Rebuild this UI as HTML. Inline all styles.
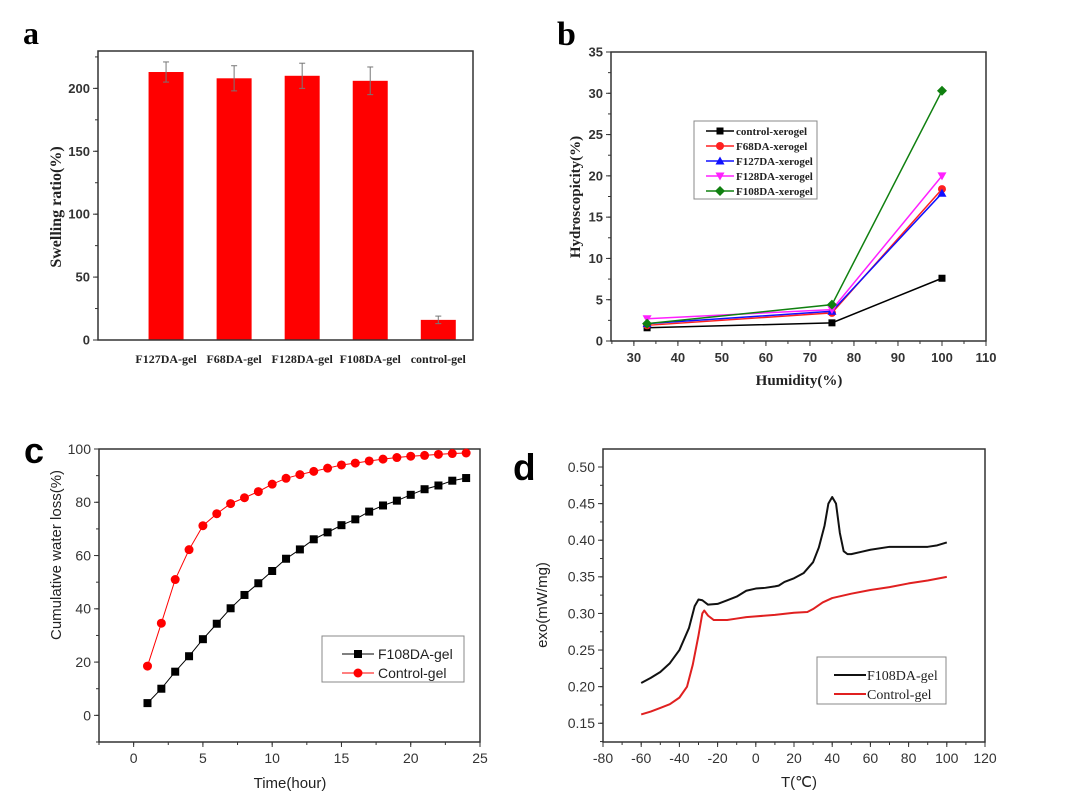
<!DOCTYPE html>
<html><head><meta charset="utf-8"><style>
html,body{margin:0;padding:0;background:#fff;}
svg{display:block;}
</style></head><body>
<svg id="fig" width="1080" height="810" viewBox="0 0 1080 810" xmlns="http://www.w3.org/2000/svg">
<rect width="1080" height="810" fill="#fff"/>
<text x="23" y="44" font-family="Liberation Serif,serif" font-weight="bold" font-size="32">a</text>
<text x="557" y="45" font-family="Liberation Serif,serif" font-weight="bold" font-size="34">b</text>
<text x="24" y="463" font-family="Liberation Sans,sans-serif" font-weight="bold" font-size="36">c</text>
<text x="513" y="480" font-family="Liberation Sans,sans-serif" font-weight="bold" font-size="37">d</text>
</svg>
<script>
// ---- Panel a data ----
const aCategories=["F127DA-gel","F68DA-gel","F128DA-gel","F108DA-gel","control-gel"];
const aValues=[213,208,210,206,16];
const aErrors=[8,10,10,11,3];
const aTicks=[0,50,100,150,200];
// ---- Panel b data ----
const bX=[33,75,100];
const bNames=["control-xerogel","F68DA-xerogel","F127DA-xerogel","F128DA-xerogel","F108DA-xerogel"];
const bControl=[1.6,2.2,7.6];
const bF68=[1.9,3.4,18.4];
const bF127=[2.1,3.6,17.9];
const bF128=[2.7,3.8,20.0];
const bF108=[2.1,4.4,30.3];
const bXTicks=[30,40,50,60,70,80,90,100,110];
const bYTicks=[0,5,10,15,20,25,30,35];
// ---- Panel c data ----
const cHours=[1,2,3,4,5,6,7,8,9,10,11,12,13,14,15,16,17,18,19,20,21,22,23,24];
const cF108=[4.6,10,16.4,22.2,28.6,34.4,40.2,45.2,49.6,54.2,58.8,62.3,66.1,68.7,71.4,73.6,76.5,78.8,80.6,82.8,84.9,86.3,88.1,89.1];
const cControl=[18.5,34.6,51,62.2,71.2,75.7,79.5,81.7,84,86.8,89,90.4,91.6,92.8,94,94.7,95.5,96.2,96.8,97.3,97.6,98,98.3,98.5];
const cXTicks=[0,5,10,15,20,25];
const cYTicks=[0,20,40,60,80,100];
// ---- Panel d data ----
const dBlackT=[-60,-55,-50,-45,-40,-35,-32,-30,-28,-25,-20,-15,-10,-5,0,5,10,12,15,20,25,30,33,36,38,40,42,44,46,48,50,55,60,70,80,90,95,100];
const dBlackV=[.205,.212,.22,.232,.25,.28,.31,.319,.318,.312,.313,.318,.323,.331,.334,.335,.337,.338,.343,.348,.355,.37,.39,.42,.45,.459,.45,.41,.385,.381,.381,.384,.387,.391,.391,.391,.393,.397];
const dRedT=[-60,-55,-50,-45,-40,-36,-33,-30,-28,-27,-25,-22,-15,-10,-5,0,10,20,27,30,35,40,50,60,70,80,90,100];
const dRedV=[.162,.166,.171,.176,.185,.2,.23,.27,.3,.304,.297,.291,.291,.293,.295,.296,.298,.301,.302,.306,.315,.321,.327,.332,.336,.341,.345,.35];
const dXTicks=[-80,-60,-40,-20,0,20,40,60,80,100,120];
const dYTicks=[0.15,0.20,0.25,0.30,0.35,0.40,0.45,0.50];

const NS="http://www.w3.org/2000/svg";
const svg=document.getElementById('fig');
function mk(tag,attrs,parent,txt){const e=document.createElementNS(NS,tag);for(const k in attrs)e.setAttribute(k,attrs[k]);if(txt!==undefined)e.textContent=txt;(parent||svg).appendChild(e);return e;}
function scale(d0,d1,r0,r1){return v=>r0+(v-d0)*(r1-r0)/(d1-d0);}
const SANS="Liberation Sans,sans-serif", SERIF="Liberation Serif,serif";

function frame(L,T,R,B,name){const r=mk('rect',{x:L,y:T,width:R-L,height:B-T,fill:'none',stroke:'#333','stroke-width':1.5});

}
function yAxis(ticks,y,L,fmt,font,fs,minorStep,dmin,dmax,name,bold){
 const g=mk('g',{});
 
 
 ticks.forEach(t=>{mk('line',{x1:L-5,x2:L,y1:y(t),y2:y(t),stroke:'#333','stroke-width':1},g);
  mk('text',{x:L-8,y:y(t)+fs*0.35,'text-anchor':'end','font-family':font,'font-size':fs,'font-weight':bold?'bold':'normal',fill:'#333'},g,fmt(t));});
 if(minorStep){for(let v=Math.ceil(dmin/minorStep)*minorStep;v<=dmax+1e-9;v+=minorStep){mk('line',{x1:L-3,x2:L,y1:y(v),y2:y(v),stroke:'#333','stroke-width':1},g);}}
}
function xAxis(ticks,x,B,fmt,font,fs,minorStep,dmin,dmax,name,bold){
 const g=mk('g',{});
 
 
 ticks.forEach(t=>{mk('line',{x1:x(t),x2:x(t),y1:B,y2:B+5,stroke:'#333','stroke-width':1},g);
  mk('text',{x:x(t),y:B+21,'text-anchor':'middle','font-family':font,'font-size':fs,'font-weight':bold?'bold':'normal',fill:'#333'},g,fmt(t));});
 if(minorStep){for(let v=Math.ceil(dmin/minorStep)*minorStep;v<=dmax+1e-9;v+=minorStep){mk('line',{x1:x(v),x2:x(v),y1:B,y2:B+3,stroke:'#333','stroke-width':1},g);}}
}
function title(txt,x,y,rot,font,fs,bold,name){const t=mk('text',{x:x,y:y,'text-anchor':'middle','font-family':font,'font-size':fs,'font-weight':bold?'bold':'normal',fill:'#222',transform:rot?`rotate(-90 ${x} ${y})`:''},svg,txt);
 
 }
function marker(type,cx,cy,s,color,parent){
 if(type==='square')return mk('rect',{x:cx-s,y:cy-s,width:2*s,height:2*s,fill:color},parent);
 if(type==='circle')return mk('circle',{cx:cx,cy:cy,r:s+0.5,fill:color},parent);
 if(type==='tri')return mk('polygon',{points:`${cx},${cy-s-1} ${cx-s-1},${cy+s} ${cx+s+1},${cy+s}`,fill:color},parent);
 if(type==='dtri')return mk('polygon',{points:`${cx},${cy+s+1} ${cx-s-1},${cy-s} ${cx+s+1},${cy-s}`,fill:color},parent);
 if(type==='diamond')return mk('polygon',{points:`${cx},${cy-s-1.5} ${cx+s+1.5},${cy} ${cx},${cy+s+1.5} ${cx-s-1.5},${cy}`,fill:color},parent);
}

// ===== Panel a =====
(function(){
 const L=98,T=51,R=473,B=340;
 const x=scale(0,5.51,L,R), y=scale(0,229.7,B,T);
 aValues.forEach((v,i)=>{
  const cx=x(i+1);
  const bar=mk('rect',{x:cx-17.5,y:y(v),width:35,height:B-y(v),fill:'#ff0000'});
  
  
  const e=mk('g',{stroke:'#777','stroke-width':1});
  
  
  mk('line',{x1:cx,x2:cx,y1:y(v+aErrors[i]),y2:y(v-aErrors[i])},e);
  mk('line',{x1:cx-3,x2:cx+3,y1:y(v+aErrors[i]),y2:y(v+aErrors[i])},e);
  mk('line',{x1:cx-3,x2:cx+3,y1:y(v-aErrors[i]),y2:y(v-aErrors[i])},e);
  const lb=mk('text',{x:cx,y:363,'text-anchor':'middle','font-family':SERIF,'font-size':12,'font-weight':'bold',fill:'#222'},svg,aCategories[i]);
  
  
 });
 frame(L,T,R,B,'panel-a-frame');
 yAxis(aTicks,y,L,t=>t,SANS,13,25,0,229,'panel-a-y-axis',true);
 title('Swelling ratio(%)',61,207,true,SERIF,16,true,'panel-a-y-title');
})();

// ===== Panel b =====
(function(){
 const L=611,T=52,R=986,B=341;
 const x=scale(24.8,110,L,R), y=scale(0,35,B,T);
 frame(L,T,R,B,'panel-b-frame');
 yAxis(bYTicks,y,L,t=>t,SANS,13,2.5,0,35,'panel-b-y-axis',true);
 xAxis(bXTicks,x,B,t=>t,SANS,13,5,25,110,'panel-b-x-axis',true);
 title('Humidity(%)',799,385,false,SERIF,15,true,'panel-b-x-title');
 title('Hydroscopicity(%)',580,197,true,SERIF,15,true,'panel-b-y-title');
 const series=[bControl,bF68,bF127,bF128,bF108];
 const colors=['#000','#ff2020','#1010ff','#ff20ff','#108010'];
 const marks=['square','circle','tri','dtri','diamond'];
 series.forEach((s,i)=>{
  const g=mk('g',{});
  
  
  mk('polyline',{points:s.map((v,j)=>x(bX[j])+','+y(v)).join(' '),fill:'none',stroke:colors[i],'stroke-width':1.5},g);
  s.forEach((v,j)=>{const m=marker(marks[i],x(bX[j]),y(v),3.5,colors[i],g);
   
   });
 });
 const lg=mk('g',{});
 
 
 mk('rect',{x:694,y:121,width:123,height:78,fill:'#fff',stroke:'#888','stroke-width':1},lg);
 bNames.forEach((n,i)=>{const yy=131+i*15;
  const e=mk('g',{},lg);
  
  
  mk('line',{x1:706,x2:734,y1:yy,y2:yy,stroke:colors[i],'stroke-width':1.5},e);
  marker(marks[i],720,yy,3.5,colors[i],e);
  mk('text',{x:736,y:yy+4,'font-family':SERIF,'font-size':11,'font-weight':'bold',fill:'#222'},e,n);
 });
})();

// ===== Panel c =====
(function(){
 const L=99,T=449,R=480,B=742;
 const x=scale(-2.5,25,L,R), y=scale(-10,100,B,T);
 frame(L,T,R,B,'panel-c-frame');
 yAxis(cYTicks,y,L,t=>t,SANS,14,10,-10,100,'panel-c-y-axis',false);
 xAxis(cXTicks,x,B,t=>t,SANS,14,2.5,-2.5,25,'panel-c-x-axis',false);
 title('Time(hour)',290,788,false,SANS,15,false,'panel-c-x-title');
 title('Cumulative water loss(%)',61,555,true,SANS,15,false,'panel-c-y-title');
 const sets=[[cF108,'#000','square','F108DA-gel'],[cControl,'#ff0000','circle','Control-gel']];
 sets.forEach(([s,c,m,n])=>{
  const g=mk('g',{});
  
  
  mk('polyline',{points:s.map((v,j)=>x(cHours[j])+','+y(v)).join(' '),fill:'none',stroke:c,'stroke-width':1},g);
  s.forEach((v,j)=>{const p=marker(m,x(cHours[j]),y(v),4,c,g);
   
   });
 });
 const lg=mk('g',{});
 
 
 mk('rect',{x:322,y:636,width:142,height:46,fill:'#fff',stroke:'#888','stroke-width':1},lg);
 sets.forEach(([s,c,m,n],i)=>{const yy=654+i*19;
  const e=mk('g',{},lg);
  
  
  mk('line',{x1:342,x2:374,y1:yy,y2:yy,stroke:c,'stroke-width':1},e);
  marker(m,358,yy,4,c,e);
  mk('text',{x:378,y:yy+5,'font-family':SANS,'font-size':14,fill:'#222'},e,n);
 });
})();

// ===== Panel d =====
(function(){
 const L=603,T=449,R=985,B=742;
 const x=scale(-80,120,L,R), y=scale(0.1244,0.5246,B,T);
 frame(L,T,R,B,'panel-d-frame');
 yAxis(dYTicks,y,L,t=>t.toFixed(2),SANS,14,0.025,0.125,0.52,'panel-d-y-axis',false);
 xAxis(dXTicks,x,B,t=>t,SANS,14,10,-80,120,'panel-d-x-axis',false);
 title('T(\u2103)',799,787,false,SANS,15,false,'panel-d-x-title');
 title('exo(mW/mg)',547,605,true,SANS,15,false,'panel-d-y-title');
 const sets=[[dBlackT,dBlackV,'#111','F108DA-gel'],[dRedT,dRedV,'#e02020','Control-gel']];
 sets.forEach(([t,v,c,n])=>{
  const p=mk('polyline',{points:v.map((val,j)=>x(t[j])+','+y(val)).join(' '),fill:'none',stroke:c,'stroke-width':2,'stroke-linejoin':'round'});
  
  
 });
 const lg=mk('g',{});
 
 
 mk('rect',{x:817,y:657,width:129,height:47,fill:'#fff',stroke:'#888','stroke-width':1},lg);
 sets.forEach(([t,v,c,n],i)=>{const yy=675+i*19;
  const e=mk('g',{},lg);
  
  
  mk('line',{x1:834,x2:866,y1:yy,y2:yy,stroke:c,'stroke-width':2},e);
  mk('text',{x:867,y:yy+5,'font-family':SERIF,'font-size':14,fill:'#222'},e,n);
 });
})();
</script>
</body></html>
